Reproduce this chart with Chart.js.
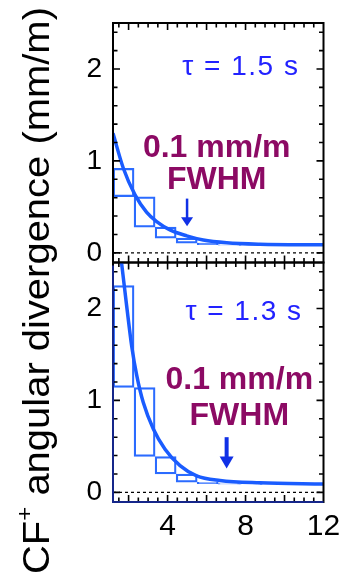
<!DOCTYPE html>
<html>
<head>
<meta charset="utf-8">
<title>CF+ angular divergence</title>
<script src="https://cdn.jsdelivr.net/npm/chart.js@4.4.1/dist/chart.umd.min.js"></script>
<style>
  html, body { margin: 0; padding: 0; background: #fff; }
  body { width: 339px; height: 574px; position: relative; overflow: hidden;
         font-family: 'Liberation Sans', Arial, Helvetica, sans-serif; }
  canvas { position: absolute; left: 0; top: 0; }
  #ytitle { position: absolute; left: 18px; top: 574px; transform-origin: 0 0;
            transform: rotate(-90deg) scaleX(1.08);
            font-size: 37px; line-height: 37px; height: 37px; white-space: nowrap; color: #000; }
  #ytitle sup { font-size: 0.6em; line-height: 0; vertical-align: 0.75em; }
</style>
</head>
<body>
<canvas id="panelTop" width="339" height="574"></canvas>
<canvas id="panelBottom" width="339" height="574"></canvas>
<div id="ytitle">CF<sup>+</sup> angular divergence (mm/m)</div>
<script>
// time (s): centres of the histogram bins
const binCenters = [1.74, 2.82, 3.90, 4.98, 6.06, 7.14, 8.22, 9.30, 10.38, 11.46];
// binned divergence (mm/m): upper panel and lower panel
const histTop    = [0.92, 0.61, 0.28, 0.16, 0.105, 0.088, 0.084, 0.082, 0.080, 0.080];
const histBottom = [2.25, 1.14, 0.39, 0.20, 0.110, 0.095, 0.090, 0.088, 0.087, 0.087];
// exponential fit curves
const fitTopX    = [1.20, 1.73, 2.33, 2.93, 3.44, 4.12, 4.98, 5.83, 7.03, 8.74, 12.0];
const fitTopY    = [1.30, 0.92, 0.63, 0.44, 0.34, 0.25, 0.185, 0.14, 0.11, 0.094, 0.087];
const fitBottomX = [1.62, 1.90, 2.16, 2.42, 2.75, 3.27, 3.87, 4.64, 5.49, 6.69, 8.74, 12.0];
const fitBottomY = [2.53, 2.03, 1.59, 1.27, 0.98, 0.69, 0.47, 0.29, 0.18, 0.13, 0.104, 0.090];
// tick labels and annotation texts
const xTickValues = [4, 8, 12];
const yTickValues = [0, 1, 2];
const fitLabels = ['τ = 1.5 s', 'τ = 1.3 s'];
const noteLines = ['0.1 mm/m', 'FWHM'];

const FONT = "'Liberation Sans', Arial, Helvetica, sans-serif";
const CURVE_BLUE = '#1a5cff';
const X_MIN = 1.2, X_MAX = 12, Y_MIN = -0.105, Y_MAX = 2.5;

// frame with inward ticks, dashed zero line, fit label, note and arrow
const frameDecor = {
  id: 'frameDecor',
  afterDatasetsDraw(chart, args, o) {
    const {ctx, chartArea: a} = chart;
    const x = chart.scales.x, y = chart.scales.y;
    ctx.save();
    const y0 = y.getPixelForValue(0);
    ctx.strokeStyle = '#000'; ctx.lineWidth = 1.2; ctx.setLineDash([3, 3]);
    ctx.beginPath(); ctx.moveTo(a.left, y0); ctx.lineTo(a.right, y0); ctx.stroke();
    ctx.setLineDash([]);

    ctx.strokeStyle = '#000'; ctx.lineWidth = 1.6;
    ctx.beginPath();
    for (let v = 1.5; v < X_MAX; v += 0.5) {
      const px = x.getPixelForValue(v);
      const len = (v % 2 === 0) ? 7 : 4.5;
      ctx.moveTo(px, a.top); ctx.lineTo(px, a.top + len);
      ctx.moveTo(px, a.bottom); ctx.lineTo(px, a.bottom - len);
    }
    for (let k = 0; k <= 12; k++) {
      const py = y.getPixelForValue(k * 0.2);
      const len = (k % 5 === 0) ? 7 : 4.5;
      ctx.moveTo(a.left, py); ctx.lineTo(a.left + len, py);
      ctx.moveTo(a.right, py); ctx.lineTo(a.right - len, py);
    }
    ctx.stroke();

    ctx.lineWidth = 2; ctx.strokeStyle = '#000';
    ctx.strokeRect(a.left, a.top, a.width, a.height);
    if (o.edgeColor) {
      ctx.strokeStyle = o.edgeColor;
      ctx.beginPath();
      ctx.moveTo(a.left, a.top + 3); ctx.lineTo(a.left, a.bottom); ctx.lineTo(a.right, a.bottom);
      ctx.stroke();
    }

    ctx.textAlign = 'center'; ctx.textBaseline = 'middle';
    ctx.font = `28px ${FONT}`; ctx.fillStyle = '#2222ff';
    ctx.letterSpacing = '1.5px';
    ctx.fillText(o.tau.text, x.getPixelForValue(o.tau.x), y.getPixelForValue(o.tau.y));
    ctx.letterSpacing = '0px';

    ctx.font = `bold 32px ${FONT}`; ctx.fillStyle = '#8c0a64';
    o.note.lines.forEach((t, i) =>
      ctx.fillText(t, x.getPixelForValue(o.note.x), y.getPixelForValue(o.note.y[i])));

    const ar = o.arrow;
    const ax = x.getPixelForValue(ar.x);
    const ay1 = y.getPixelForValue(ar.from), ay2 = y.getPixelForValue(ar.to);
    ctx.strokeStyle = ctx.fillStyle = '#1030e6';
    ctx.lineWidth = ar.shaft;
    ctx.beginPath(); ctx.moveTo(ax, ay1); ctx.lineTo(ax, ay2 - ar.headL + 1); ctx.stroke();
    ctx.beginPath();
    ctx.moveTo(ax - ar.headW / 2, ay2 - ar.headL);
    ctx.lineTo(ax + ar.headW / 2, ay2 - ar.headL);
    ctx.lineTo(ax, ay2);
    ctx.closePath(); ctx.fill();
    ctx.restore();
  }
};

function makePanel(canvasId, hist, fitX, fitY, showX, padding, decor) {
  const boxes = hist.map((v, i) => ({
    x: binCenters[i],
    y: [i + 1 < hist.length ? hist[i + 1] : v, v]
  }));
  const fit = fitX.map((xv, i) => ({x: xv, y: fitY[i]}));
  return new Chart(document.getElementById(canvasId), {
    type: 'bar',
    data: {
      datasets: [
        { type: 'line', data: fit, borderColor: CURVE_BLUE, borderWidth: 3.5,
          pointRadius: 0, cubicInterpolationMode: 'monotone', clip: 0, order: 0 },
        { type: 'bar', data: boxes, borderColor: '#2b6bff', backgroundColor: 'rgba(0,0,0,0)',
          borderWidth: 1.6, borderSkipped: false, barPercentage: 1, categoryPercentage: 1, order: 1 }
      ]
    },
    options: {
      responsive: false, animation: false, devicePixelRatio: 1,
      layout: { padding },
      plugins: { legend: { display: false }, tooltip: { enabled: false }, frameDecor: decor },
      scales: {
        x: {
          type: 'linear', min: X_MIN, max: X_MAX, offset: false, display: showX,
          afterBuildTicks: s => { s.ticks = xTickValues.map(v => ({value: v})); },
          afterFit: s => {
            if (s.options.display) { s.height = 40; }
            s.paddingLeft = 0; s.paddingRight = 0;
          },
          grid: { display: false, drawTicks: false }, border: { display: false },
          ticks: { autoSkip: false, maxRotation: 0, padding: 7, color: '#000',
                   font: { family: FONT, size: 30 } }
        },
        y: {
          type: 'linear', min: Y_MIN, max: Y_MAX,
          afterBuildTicks: s => { s.ticks = yTickValues.map(v => ({value: v})); },
          afterFit: s => { s.width = 40; s.paddingTop = 0; s.paddingBottom = 0; },
          grid: { display: false, drawTicks: false }, border: { display: false },
          ticks: { autoSkip: false, padding: 11, color: '#000',
                   font: { family: FONT, size: 28 } }
        }
      }
    },
    plugins: [frameDecor]
  });
}

makePanel('panelTop', histTop, fitTopX, fitTopY, false,
  { left: 73, top: 23, right: 15.5, bottom: 311.5 },
  { tau: { text: fitLabels[0], x: 7.76, y: 2.02 },
    note: { lines: noteLines, x: 6.52, y: [1.14, 0.79] },
    arrow: { x: 5.0, from: 0.59, to: 0.29, headW: 12, headL: 9, shaft: 2.5 } });

makePanel('panelBottom', histBottom, fitBottomX, fitBottomY, true,
  { left: 73, top: 262.5, right: 15.5, bottom: 32 },
  { tau: { text: fitLabels[1], x: 7.92, y: 1.96 },
    note: { lines: noteLines, x: 7.68, y: [1.22, 0.83] },
    arrow: { x: 7.03, from: 0.60, to: 0.26, headW: 14, headL: 12, shaft: 4 },
    edgeColor: '#15268a' });
</script>
</body>
</html>
